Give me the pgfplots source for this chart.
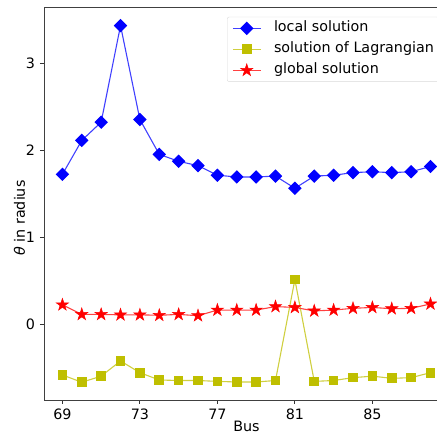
\documentclass[border=0pt]{standalone}
\usepackage{fontspec}
\setmainfont{DejaVu Sans}
\usepackage{pgfplots}
\pgfplotsset{compat=1.18}
\usetikzlibrary{calc}
\definecolor{myyellow}{rgb}{0.75,0.75,0}
\pgfdeclareplotmark{fstar}{%
  \pgfpathmoveto{\pgfpointpolar{90}{\pgfplotmarksize}}%
  \pgfpathlineto{\pgfpointpolar{126}{0.382\pgfplotmarksize}}%
  \pgfpathlineto{\pgfpointpolar{162}{\pgfplotmarksize}}%
  \pgfpathlineto{\pgfpointpolar{198}{0.382\pgfplotmarksize}}%
  \pgfpathlineto{\pgfpointpolar{234}{\pgfplotmarksize}}%
  \pgfpathlineto{\pgfpointpolar{270}{0.382\pgfplotmarksize}}%
  \pgfpathlineto{\pgfpointpolar{306}{\pgfplotmarksize}}%
  \pgfpathlineto{\pgfpointpolar{342}{0.382\pgfplotmarksize}}%
  \pgfpathlineto{\pgfpointpolar{18}{\pgfplotmarksize}}%
  \pgfpathlineto{\pgfpointpolar{54}{0.382\pgfplotmarksize}}%
  \pgfpathclose
  \pgfusepathqfillstroke}
\begin{document}
\fontsize{14.3pt}{16pt}\selectfont
\begin{tikzpicture}[x=1pt,y=1pt]
\path[use as bounding box] (-44,-34) rectangle (393,400);
\begin{axis}[at={(0,0)}, anchor=south west, scale only axis,
  width=404.9pt, height=393pt,
  xmin=68.05, xmax=88.95, ymin=-0.874, ymax=3.644,
  xtick={69,73,77,81,85}, ytick={0,1,2,3},
  xtick pos=left, ytick pos=left,
  tick align=outside, major tick length=4pt,
  tick style={black!80, line width=0.8pt},
  axis line style={black!75, line width=0.8pt},
  /pgf/number format/assume math mode=true,
  ticklabel style={font=\fontsize{14.3pt}{16pt}\selectfont},
  xlabel={Bus}, ylabel={{\itshape θ} in radius},
  xlabel style={at={($(rel axis cs:0.5,0)+(0pt,-32pt)$)}, anchor=base},
  ylabel style={at={($(rel axis cs:0,0.463)+(-19pt,0pt)$)}, anchor=base},
  label style={font=\fontsize{14.3pt}{16pt}\selectfont},
  legend style={at={(rel axis cs:0.452,0.975)}, anchor=north west,
    draw=black!15, rounded corners=2pt, fill=white,
    font=\fontsize{14.3pt}{16pt}\selectfont, row sep=7pt, column sep=12.7pt,
    inner xsep=5pt, inner ysep=4.3pt,
    nodes={inner sep=0pt, text height=10.5pt, text depth=3.5pt}},
  legend cell align=left,
  legend image code/.code={\draw[mark repeat=2,mark phase=2] plot coordinates {(0pt,0pt)(14pt,0pt)(28pt,0pt)};},
]
\addplot[color=blue!75!white, line width=1.1pt, mark=square*, mark size=4.2pt,
  mark options={rotate=45, blue, fill=blue}] coordinates {
(69,1.72)(70,2.11)(71,2.32)(72,3.43)(73,2.35)(74,1.95)(75,1.87)(76,1.82)(77,1.71)(78,1.69)
(79,1.69)(80,1.70)(81,1.56)(82,1.70)(83,1.71)(84,1.74)(85,1.75)(86,1.74)(87,1.75)(88,1.81)};
\addlegendentry{local solution}
\addplot[color=myyellow!75!white, line width=1.1pt, mark=square*, mark size=4.3pt,
  mark options={myyellow, fill=myyellow}] coordinates {
(69,-0.586)(70,-0.67)(71,-0.60)(72,-0.425)(73,-0.56)(74,-0.644)(75,-0.65)(76,-0.65)(77,-0.66)(78,-0.667)
(79,-0.667)(80,-0.65)(81,0.51)(82,-0.66)(83,-0.65)(84,-0.617)(85,-0.60)(86,-0.625)(87,-0.617)(88,-0.56)};
\addlegendentry{solution of Lagrangian}
\addplot[color=red!75!white, line width=1.1pt, mark=fstar, mark size=6.5pt,
  mark options={red, fill=red, line width=0.5pt}] coordinates {
(69,0.22)(70,0.11)(71,0.11)(72,0.105)(73,0.105)(74,0.10)(75,0.11)(76,0.095)(77,0.16)(78,0.16)
(79,0.16)(80,0.20)(81,0.19)(82,0.15)(83,0.16)(84,0.18)(85,0.19)(86,0.175)(87,0.18)(88,0.23)};
\addlegendentry{global solution}
\end{axis}
\end{tikzpicture}
\end{document}
